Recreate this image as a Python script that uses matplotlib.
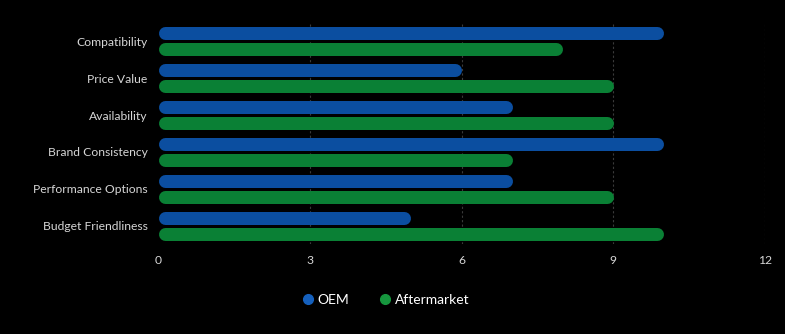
import matplotlib
matplotlib.use("Agg")
import matplotlib.pyplot as plt
from matplotlib.lines import Line2D
import numpy as np

categories = ["Compatibility", "Price Value", "Availability", "Brand Consistency",
              "Performance Options", "Budget Friendliness"]
oem = [10, 6, 7, 10, 7, 5]
aftermarket = [8, 9, 9, 7, 9, 10]
series_names = ["OEM", "Aftermarket"]
x_ticks = [0, 3, 6, 9, 12]

blue = "#0B4EA0"
green = "#0A8035"
text_col = "#D6D6D6"

plt.rcParams['font.family'] = ['Lato', 'DejaVu Sans']

W, H, DPI = 785, 334, 100
fig = plt.figure(figsize=(W / DPI, H / DPI), dpi=DPI, facecolor="black")
ax_left, ax_right, ax_top, ax_bot = 158, 765, 23, 244
ax = fig.add_axes([ax_left / W, 1 - ax_bot / H, (ax_right - ax_left) / W, (ax_bot - ax_top) / H])
ax.set_facecolor("black")

xmax = 12
ax.set_xlim(0, xmax)
n = len(categories)
ax.set_ylim(n - 0.5, -0.5)

bar_px = 13
lw_pt = bar_px * 72 / DPI
px_per_unit = (ax_right - ax_left) / xmax
r = (bar_px / 2) / px_per_unit
group_px = (ax_bot - ax_top) / n
off = 8 / group_px

for i in range(n):
    for v, col, o in ((oem[i], blue, -off), (aftermarket[i], green, off)):
        ax.plot([r, v - r], [i + o, i + o], color=col, lw=lw_pt,
                solid_capstyle="round", zorder=3)

ax.set_xticks(x_ticks)
ax.set_xticklabels([str(t) for t in x_ticks])
ax.set_yticks(range(n))
ax.set_yticklabels(categories)
ax.tick_params(axis="both", length=0, colors=text_col, labelsize=8.7)
ax.tick_params(axis="x", pad=8)
ax.tick_params(axis="y", pad=7.5)
for t in x_ticks:
    if t == 0:
        continue
    ax.axvline(t, color="#3a3a3a", lw=0.8, ls=(0, (2, 2)), zorder=1)
for s in ax.spines.values():
    s.set_visible(False)

handles = [Line2D([], [], marker="o", ls="", markersize=7, markerfacecolor=c,
                  markeredgecolor=c) for c in ("#1560BD", "#16963E")]
leg = fig.legend(handles, series_names, loc="center", bbox_to_anchor=(386 / W, 1 - 300 / H),
                 ncol=2, frameon=False, fontsize=10, handlelength=0.8, handletextpad=0.3,
                 columnspacing=2.2, labelcolor="white")

fig.savefig("out.png", dpi=DPI, facecolor="black")
